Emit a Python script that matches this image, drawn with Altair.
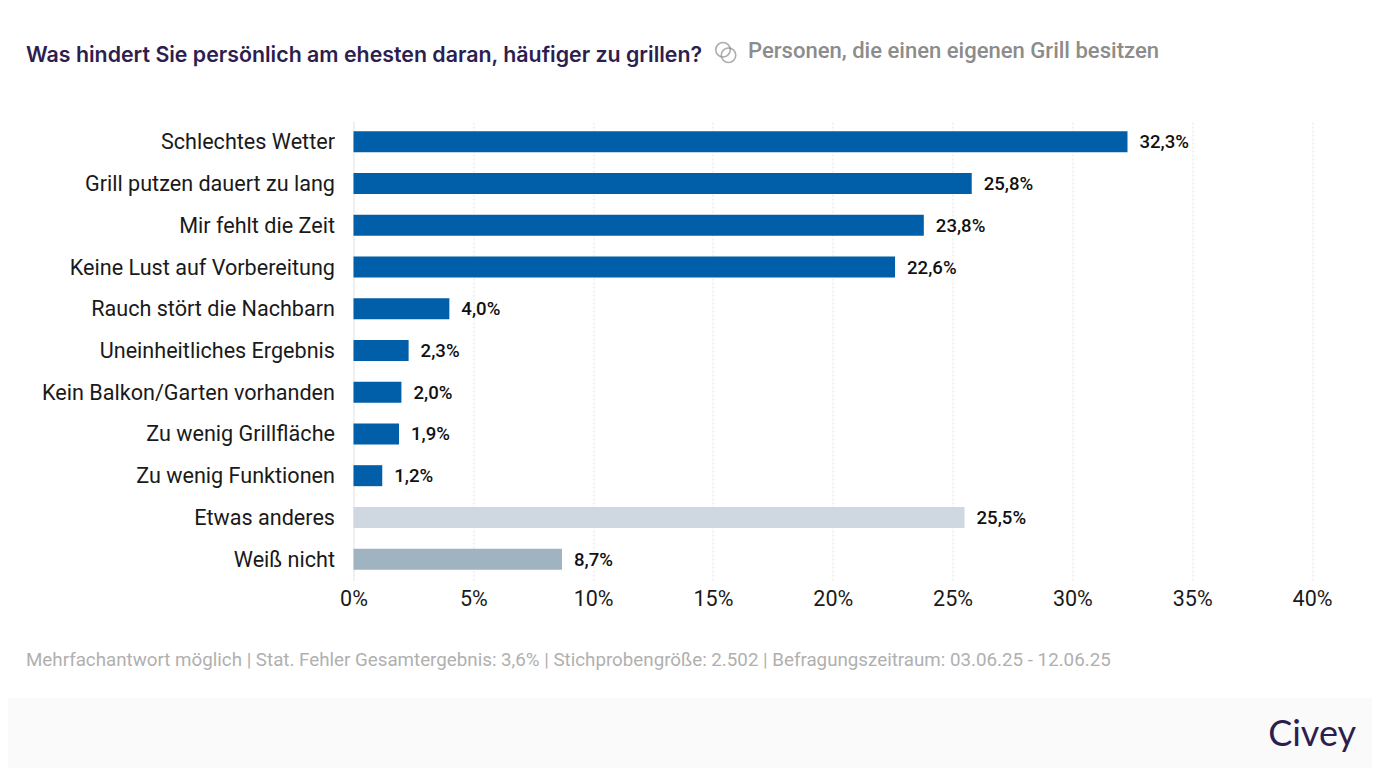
import altair as alt
import pandas as pd

categories = ["Schlechtes Wetter", "Grill putzen dauert zu lang", "Mir fehlt die Zeit",
              "Keine Lust auf Vorbereitung", "Rauch stört die Nachbarn", "Uneinheitliches Ergebnis",
              "Kein Balkon/Garten vorhanden", "Zu wenig Grillfläche", "Zu wenig Funktionen",
              "Etwas anderes", "Weiß nicht"]
values = [32.3, 25.8, 23.8, 22.6, 4.0, 2.3, 2.0, 1.9, 1.2, 25.5, 8.7]
labels = ["32,3%", "25,8%", "23,8%", "22,6%", "4,0%", "2,3%", "2,0%", "1,9%", "1,2%", "25,5%", "8,7%"]
colors = ["#005FA8"] * 9 + ["#CFD8E0", "#9FB3C1"]
ticks = [0, 5, 10, 15, 20, 25, 30, 35, 40]

title_text = "Was hindert Sie persönlich am ehesten daran, häufiger zu grillen?"
subtitle_text = "Personen, die einen eigenen Grill besitzen"
footer_text = ("Mehrfachantwort möglich | Stat. Fehler Gesamtergebnis: 3,6% | "
               "Stichprobengröße: 2.502 | Befragungszeitraum: 03.06.25 - 12.06.25")
brand_text = "Civey"

OX, OY = 353.5, 121.0   # plot origin on the page
W, H = 958.5, 459.0
PAGE_W, PAGE_H = 1364, 760


def px(x):
    return alt.value(x - OX)


def py(y):
    return alt.value(y - OY)


df = pd.DataFrame({"cat": categories, "val": values, "label": labels, "color": colors})

x_enc = alt.X("val:Q", scale=alt.Scale(domain=[0, 40], nice=False),
              axis=alt.Axis(values=ticks, labelExpr="datum.value + '%'", title=None,
                            domain=False, ticks=False, grid=True, gridColor="#E3E3E3",
                            gridDash=[2, 2], gridWidth=1, labelFont="Roboto", labelFontSize=21.5,
                            labelColor="#1A1A1A", labelPadding=8, labelFontWeight=400, labelFlush=False))
y_enc = alt.Y("cat:N", sort=categories, scale=alt.Scale(paddingInner=0, paddingOuter=0),
              axis=alt.Axis(title=None, domain=True, domainColor="#E8E8E8", domainWidth=1, ticks=False,
                            grid=False, labelFont="Roboto", labelFontSize=21.6, labelColor="#1A1A1A",
                            labelPadding=19, labelLimit=340, labelFontWeight=400, labelOffset=1.5))

band = alt.Chart(pd.DataFrame({"a": [0]})).mark_rect(color="#FAFAFA").encode(
    x=px(8), x2=px(8 + PAGE_W), y=py(698), y2=py(8 + PAGE_H))

bars = alt.Chart(df).mark_bar(height=21).encode(
    x=x_enc, y=y_enc, color=alt.Color("color:N", scale=None))

value_labels = alt.Chart(df).mark_text(
    align="left", baseline="middle", dx=12, dy=0.5, font="Roboto", fontSize=18.6, fontWeight=500, color="#111111"
).encode(x="val:Q", y=alt.Y("cat:N", sort=categories), text="label:N")


def text(t, x, y, **kw):
    return alt.Chart(pd.DataFrame({"t": [t]})).mark_text(baseline="middle", **kw).encode(
        x=px(x), y=py(y), text="t:N")


title = text(title_text, 26, 55.5, align="left", font="Inter", fontSize=21.35, fontWeight=600, color="#2D1E4F")
subtitle = text(subtitle_text, 748, 51, align="left", font="Roboto", fontSize=22.05, fontWeight=500, color="#8C8C8C")
footer = text(footer_text, 26, 659.5, align="left", font="Roboto", fontSize=18.75, color="#B0B0B0")
brand = text(brand_text, 1356, 735, align="right", font="Lato", fontSize=36, fontWeight=400, color="#2D1E4F")


def ring(x, y):
    return alt.Chart(pd.DataFrame({"a": [0]})).mark_point(
        shape="circle", size=210, filled=False, stroke="#8C8C8C", strokeWidth=1.6
    ).encode(x=px(x), y=py(y))


chart = alt.layer(band, bars, value_labels, title, subtitle, footer, brand, ring(723, 49.7), ring(728.5, 55.3)).properties(
    width=W, height=H,
    padding={"left": OX - 8, "top": OY - 8, "right": PAGE_W - (OX - 8) - W, "bottom": PAGE_H - (OY - 8) - H},
    autosize=alt.AutoSizeParams(type="none"),
    background="#FFFFFF",
).configure_view(stroke=None)

chart.save("out.html", embed_options={"renderer": "svg", "actions": False})
